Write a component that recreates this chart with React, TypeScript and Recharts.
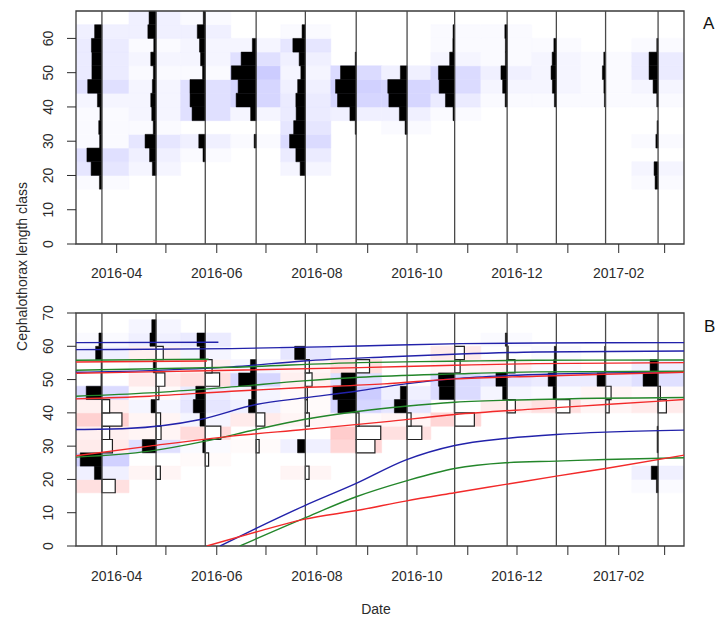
import React from 'react';
import { ComposedChart, XAxis, YAxis, Line, ReferenceArea, ReferenceLine } from 'recharts';

// sampling dates (one length-frequency sample per month)
const sampleDates = [
  '2016-03-23', '2016-04-25', '2016-05-25', '2016-06-25', '2016-07-25', '2016-08-25',
  '2016-09-25', '2016-10-24', '2016-11-25', '2016-12-25', '2017-01-24', '2017-02-25',
];

// lower bound of each length class (class width 4)
const lengthClasses = [16, 20, 24, 28, 32, 36, 40, 44, 48, 52, 56, 60, 64];

// panel A: observed frequencies, one row per sample, one value per length class
const observedFreq = [
  [2.5, 10.8, 15, 2.3, 3.2, 2, 4.5, 14.2, 10, 10, 10.5, 7.3, 0],
  [0, 3.7, 6.5, 11, 2.8, 4.3, 5.3, 3.7, 2.7, 5.3, 2.3, 8.2, 7],
  [0, 0, 2.3, 6.5, 0, 13.2, 15.2, 15.3, 2.7, 4.7, 5.8, 8, 2],
  [0, 0, 0, 2, 0, 5.5, 20, 18, 24.8, 15, 3.8, 0, 0],
  [0, 5.2, 9.5, 15.8, 11.7, 9.2, 9.5, 7.7, 4.5, 6.2, 12.5, 3.3, 0],
  [0, 0, 0, 0, 1, 6.3, 18.7, 20.7, 15.7, 1, 0, 0, 0],
  [0, 0, 0, 0, 2, 7.7, 18.2, 19.3, 6.7, 0, 0, 0, 0],
  [0, 0, 0, 0, 0, 1.6, 9.2, 15.5, 16.2, 5, 1.8, 1.6, 0],
  [0, 0, 0, 0, 0, 0, 2, 4.5, 6.2, 1.8, 1.8, 2.3, 0],
  [0, 0, 0, 0, 0, 0, 2, 4, 5.3, 4.2, 2.5, 0, 0],
  [0, 0, 0, 0, 0, 0, 1.2, 1.7, 3.2, 1.8, 0, 0, 0],
  [3, 4, 0, 2.2, 1, 0, 1.3, 5, 9, 9, 1.3, 0, 0],
];

// panel B: restructured frequencies (positive peaks / negative troughs)
const restructuredFreq = [
  [-13.3, 7.5, 21.7, -10.5, -7.7, -20, -7.7, 15.7, 1, 0.8, 6.3, 3, 0],
  [0, -4.3, 0, 13.8, -5, -4.5, 5, -2.8, -8.8, 2.8, -7.2, 6.1, 4.3],
  [0, 0, -3.3, 2.5, -15.5, 5.3, 12, 9.5, -14.3, -6.8, 5.3, 8.3, 0],
  [0, 0, 0, -3, 0, -8.7, 7.6, 4.5, 17.5, 5.7, 0, 0, 0],
  [0, -3.7, 0, 7.8, 0, -4, -2, -2, -6.7, -4, 10.7, 0, 0],
  [0, 0, 0, -18.7, -24.5, -2.8, 18.3, 23.3, 15, -13.3, 0, 0, 0],
  [0, 0, 0, 0, -14.7, -4, 12.7, 6.7, 0, 0, 0, 0, 0],
  [0, 0, 0, 0, 0, -19.7, 0.5, 15.3, 16.2, -5.5, -9.7, 0, 0],
  [0, 0, 0, 0, 0, 0, -8.2, 4.5, 11.2, -7.8, -1, 1.8, 0],
  [0, 0, 0, 0, 0, 0, -13.5, 3.3, 8.2, 2.7, 2, 0, 0],
  [0, 0, 0, 0, 0, 0, -3.6, -5.5, 8.5, 1, 1, 0, 0],
  [1.7, 6.8, 0, 1, 1, 0, -8.3, -2.3, 15, 8, 0, 0, 0],
];

// fitted growth curves, one list of [date, length] per cohort
const blueCurves: [string, number][][] = [
  [['2016-03-07', 61.1], ['2016-06-02', 61.2]],
  [['2016-03-07', 59.0], ['2016-06-10', 59.3], ['2016-08-27', 60.1], ['2016-10-28', 60.8], ['2016-12-13', 61.0], ['2017-03-13', 61.1]],
  [['2016-03-07', 52.2], ['2016-04-21', 52.7], ['2016-06-10', 53.8], ['2016-07-24', 55.6], ['2016-09-11', 56.8], ['2016-10-27', 57.7], ['2016-12-13', 58.3], ['2017-03-13', 58.6]],
  [['2016-03-07', 35.0], ['2016-04-07', 35.3], ['2016-05-22', 38.0], ['2016-06-25', 42.5], ['2016-07-24', 44.5], ['2016-08-25', 46.5], ['2016-09-24', 48.7], ['2016-10-24', 50.3], ['2016-11-24', 51.2], ['2016-12-25', 51.7], ['2017-01-24', 52.0], ['2017-03-13', 52.2]],
  [['2016-06-03', 0], ['2016-06-25', 5.3], ['2016-07-24', 12.0], ['2016-08-25', 18.8], ['2016-09-24', 25.8], ['2016-10-24', 30.2], ['2016-11-24', 32.3], ['2016-12-25', 33.5], ['2017-01-24', 34.2], ['2017-03-13', 34.8]],
];

const greenCurves: [string, number][][] = [
  [['2016-03-07', 55.8], ['2016-05-27', 56.1]],
  [['2016-03-07', 52.8], ['2016-06-10', 53.7], ['2016-08-27', 55.1], ['2016-10-21', 55.5], ['2016-12-13', 55.8], ['2017-03-13', 55.9]],
  [['2016-03-07', 45.0], ['2016-04-21', 46.0], ['2016-06-10', 47.8], ['2016-07-24', 49.6], ['2016-08-27', 50.7], ['2016-10-24', 51.7], ['2016-12-13', 52.3], ['2017-03-13', 52.5]],
  [['2016-03-07', 26.7], ['2016-04-21', 28.5], ['2016-05-25', 31.5], ['2016-06-25', 35.0], ['2016-07-24', 38.0], ['2016-08-27', 40.5], ['2016-09-24', 42.0], ['2016-10-24', 43.2], ['2016-12-13', 44.0], ['2017-03-13', 44.6]],
  [['2016-06-15', 0], ['2016-07-24', 8.3], ['2016-08-25', 14.8], ['2016-09-24', 19.5], ['2016-10-24', 23.3], ['2016-11-24', 25.0], ['2016-12-25', 25.5], ['2017-01-24', 26.0], ['2017-03-13', 26.5]],
];

const redCurves: [string, number][][] = [
  [['2016-03-07', 55.3], ['2016-05-26', 55.6]],
  [['2016-03-07', 51.9], ['2016-06-10', 52.8], ['2016-08-27', 53.6], ['2016-10-24', 54.3], ['2016-12-13', 54.8], ['2017-03-13', 55.1]],
  [['2016-03-07', 44.2], ['2016-04-21', 45.0], ['2016-06-10', 46.5], ['2016-07-24', 47.6], ['2016-09-11', 48.7], ['2016-10-24', 50.2], ['2016-12-13', 51.0], ['2017-01-24', 51.6], ['2017-03-13', 52.2]],
  [['2016-03-07', 27.1], ['2016-04-21', 30.0], ['2016-06-10', 33.0], ['2016-07-24', 35.0], ['2016-09-11', 37.3], ['2016-10-24', 39.5], ['2016-12-13', 41.2], ['2017-01-24', 42.5], ['2017-03-13', 44.0]],
  [['2016-05-26', 0], ['2016-06-25', 4.2], ['2016-07-24', 8.0], ['2016-08-27', 10.8], ['2016-09-24', 13.5], ['2016-10-24', 16.0], ['2016-11-24', 18.5], ['2016-12-25', 21.0], ['2017-01-24', 23.3], ['2017-03-13', 27.3]],
];

const monthTicks = [
  '2016-04-01', '2016-05-01', '2016-06-01', '2016-07-01', '2016-08-01', '2016-09-01',
  '2016-10-01', '2016-11-01', '2016-12-01', '2017-01-01', '2017-02-01', '2017-03-01',
];

const DAY = 86400000;
const toTime = (d: string) => Date.parse(d + 'T00:00:00Z');
const sampleTimes = sampleDates.map(toTime);
const X_MIN = sampleTimes[0] - 15.8 * DAY;
const X_MAX = sampleTimes[sampleTimes.length - 1] + 15.8 * DAY;
const CLASS_WIDTH = 4;
const BAR_DAYS_PER_UNIT = 0.61;
const FONT = '"Liberation Sans", Arial, sans-serif';
const INK = '#2b2b2b';

// 21 step ramp light red - white - light blue, symmetric around zero
const imageColour = (v: number, zmax: number) => {
  let level = Math.floor(((v + zmax) / (2 * zmax)) * 21);
  level = Math.max(0, Math.min(20, level));
  const k = (level - 10) / 10;
  const c = Math.round(255 - 51 * Math.abs(k));
  if (k > 0) return `rgb(${c},${c},255)`;
  if (k < 0) return `rgb(255,${c},${c})`;
  return null;
};

const monthLabel = (t: number) => {
  const d = new Date(t);
  const m = d.getUTCMonth() + 1;
  if (m % 2 === 1) return '';
  return `${d.getUTCFullYear()}-${String(m).padStart(2, '0')}`;
};

const YTick = (props: any) => {
  const { x, y, payload } = props;
  return (
    <text x={x} y={y} transform={`rotate(-90 ${x} ${y})`} textAnchor="middle" fontSize={14} fill={INK}>
      {payload.value}
    </text>
  );
};

interface Curve { points: { t: number; v: number }[]; colour: string; }

interface PanelProps {
  freq: number[][];
  yMax: number;
  yTicks: number[];
  curves: Curve[];
  marginTop: number;
  labelGap: number;
}

const LfqPanel: React.FC<PanelProps> = ({ freq, yMax, yTicks, curves, marginTop, labelGap }) => {
  const n = sampleTimes.length;
  const zmax = Math.max(...freq.flat().map(Math.abs));
  const cells: React.ReactNode[] = [];
  const bars: React.ReactNode[] = [];

  freq.forEach((col, i) => {
    const t = sampleTimes[i];
    const left = i === 0 ? X_MIN : (sampleTimes[i - 1] + t) / 2;
    const right = i === n - 1 ? X_MAX : (t + sampleTimes[i + 1]) / 2;
    col.forEach((v, j) => {
      const lo = lengthClasses[j];
      const fill = imageColour(v, zmax);
      if (fill) {
        cells.push(
          <ReferenceArea key={`c${i}-${j}`} x1={left} x2={right} y1={lo} y2={lo + CLASS_WIDTH}
            fill={fill} fillOpacity={1} stroke={fill} strokeWidth={0.6} ifOverflow="hidden" />
        );
      }
      if (v === 0) return;
      const len = Math.abs(v) * BAR_DAYS_PER_UNIT * DAY;
      bars.push(
        v > 0 ? (
          <ReferenceArea key={`b${i}-${j}`} x1={t - len} x2={t} y1={lo} y2={lo + CLASS_WIDTH}
            fill="#000" fillOpacity={1} stroke="#000" strokeWidth={0.5} ifOverflow="hidden" />
        ) : (
          <ReferenceArea key={`b${i}-${j}`} x1={t} x2={t + len} y1={lo} y2={lo + CLASS_WIDTH}
            fill="#fff" fillOpacity={1} stroke="#222" strokeWidth={1.2} ifOverflow="hidden" />
        )
      );
    });
  });

  return (
    <ComposedChart width={715} height={marginTop + 233 + 46} margin={{ top: marginTop, right: 31, bottom: 0, left: 0 }}>
      <XAxis dataKey="t" type="number" domain={[X_MIN, X_MAX]} allowDataOverflow
        ticks={monthTicks.map(toTime)} interval={0} tickFormatter={monthLabel}
        axisLine={false} tickSize={9} tickMargin={labelGap} height={46}
        tickLine={{ stroke: INK }} tick={{ fontSize: 14, fill: INK }} />
      <YAxis type="number" domain={[0, yMax]} allowDataOverflow ticks={yTicks} interval={0}
        axisLine={false} tickSize={9} tickMargin={14} width={76}
        tickLine={{ stroke: INK }} tick={<YTick />} />
      {cells}
      {sampleTimes.map((t, i) => (
        <ReferenceLine key={`s${i}`} x={t} stroke="#4a4a4a" strokeWidth={1.3} />
      ))}
      {bars}
      <ReferenceArea x1={X_MIN} x2={X_MAX} y1={0} y2={yMax} fill="none" stroke="#3a3a3a" strokeWidth={1.3} />
      {curves.map((c, i) => (
        <Line key={`g${i}`} data={c.points} dataKey="v" type="monotone" stroke={c.colour}
          strokeWidth={1.4} dot={false} activeDot={false} isAnimationActive={false} />
      ))}
    </ComposedChart>
  );
};

const toCurves = (list: [string, number][][], colour: string): Curve[] =>
  list.map((pts) => ({ colour, points: pts.map(([d, v]) => ({ t: toTime(d), v })) }));

export default function App() {
  const curves = [
    ...toCurves(blueCurves, '#2222aa'),
    ...toCurves(greenCurves, '#23862a'),
    ...toCurves(redCurves, '#f22a2a'),
  ];
  return (
    <div style={{ position: 'relative', width: 715, height: 617, fontFamily: FONT, background: '#fff' }}>
      <style>{'body{margin:0}'}</style>
      <div style={{ position: 'absolute', left: 0, top: 0 }}>
        <LfqPanel freq={observedFreq} yMax={68} yTicks={[0, 10, 20, 30, 40, 50, 60]} curves={[]}
          marginTop={11} labelGap={15} />
      </div>
      <div style={{ position: 'absolute', left: 0, top: 300 }}>
        <LfqPanel freq={restructuredFreq} yMax={70} yTicks={[0, 10, 20, 30, 40, 50, 60, 70]} curves={curves}
          marginTop={13} labelGap={16} />
      </div>
      <svg width={715} height={617} style={{ position: 'absolute', left: 0, top: 0, pointerEvents: 'none' }}>
        <text x={27} y={266.5} transform="rotate(-90 27 266.5)" textAnchor="middle" fontSize={14} fill={INK}>
          Cephalothorax length class
        </text>
        <text x={376} y={614} textAnchor="middle" fontSize={14} fill={INK}>Date</text>
        <text x={703} y={28.5} fontSize={17} fill="#111">A</text>
        <text x={704} y={331.5} fontSize={17} fill="#111">B</text>
      </svg>
    </div>
  );
}
